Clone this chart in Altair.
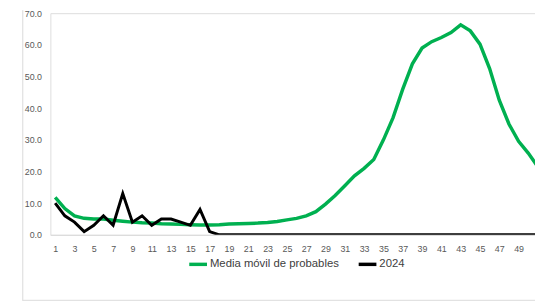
import altair as alt
import pandas as pd

weeks = list(range(1, 52))
media_movil = [11.8, 8.3, 6.0, 5.2, 5.0, 5.0, 4.6, 4.3, 4.0, 3.8, 3.7, 3.5, 3.4, 3.3, 3.2,
               3.1, 3.1, 3.2, 3.4, 3.5, 3.6, 3.7, 3.9, 4.2, 4.7, 5.2, 6.0, 7.3, 9.7, 12.4,
               15.5, 18.6, 21.0, 23.8, 30.0, 37.0, 46.0, 54.0, 59.0, 61.0, 62.3, 63.9, 66.3,
               64.4, 60.2, 52.5, 42.5, 35.0, 29.5, 25.8, 21.5]
casos_2024 = [10, 6, 4, 1, 3, 6, 3, 13, 4, 6, 3, 5, 5, 4, 3, 8, 1] + [0] * 34
series_names = ["Media móvil de probables", "2024"]
series_colors = ["#00B050", "#000000"]
x_ticks = list(range(1, 50, 2))
y_ticks = [0, 10, 20, 30, 40, 50, 60, 70]

df_g = pd.DataFrame({"semana": weeks, "valor": media_movil, "serie": series_names[0]})
df_b = pd.DataFrame({"semana": weeks, "valor": casos_2024, "serie": series_names[1]})

FONT = "Liberation Sans"

x_enc = alt.X("semana:Q",
              scale=alt.Scale(domain=[0.5, 50.7], nice=False, zero=False),
              axis=alt.Axis(values=x_ticks, format="d", title=None, grid=False, ticks=False,
                            domainColor="#D9D9D9", domainWidth=1, labelPadding=10,
                            labelFontSize=9, labelColor="#595959", labelFont=FONT,
                            labelFlush=False, labelOverlap=False))
y_enc = alt.Y("valor:Q",
              scale=alt.Scale(domain=[0, 70], nice=False),
              axis=alt.Axis(values=y_ticks, format=".1f", title=None, grid=False, ticks=False,
                            domain=False, labelPadding=9, labelFontSize=9,
                            labelColor="#595959", labelFont=FONT))
color_enc = alt.Color("serie:N",
                      scale=alt.Scale(domain=series_names, range=series_colors),
                      legend=alt.Legend(title=None, orient="none", direction="horizontal",
                                        legendX=139, legendY=244, symbolType="stroke",
                                        symbolSize=324, symbolStrokeWidth=3.5,
                                        labelFontSize=11.5, labelFont=FONT, labelColor="#404040",
                                        labelOffset=1, columnPadding=12))

green = alt.Chart(df_g).mark_line(strokeWidth=3.5, clip=True).encode(x=x_enc, y=y_enc, color=color_enc)
black = alt.Chart(df_b).mark_line(strokeWidth=3, clip=True).encode(x=x_enc, y=y_enc, color=color_enc)

frame_left = alt.Chart(pd.DataFrame({"a": [0]})).mark_rule(color="#D9D9D9", strokeWidth=1).encode(
    x=alt.value(-28), y=alt.value(-3), y2=alt.value(292))
frame_bottom = alt.Chart(pd.DataFrame({"a": [0]})).mark_rule(color="#D9D9D9", strokeWidth=1).encode(
    x=alt.value(-28), x2=alt.value(500), y=alt.value(291.5))

chart = alt.layer(frame_left, frame_bottom, green, black).properties(
    width=492, height=225,
    autosize=alt.AutoSizeParams(type="none"),
    padding={"left": 43, "top": 3, "right": 0, "bottom": 68},
).configure_view(stroke=None).configure(background="white")

chart.save("out.html", embed_options={"renderer": "svg", "actions": False})
